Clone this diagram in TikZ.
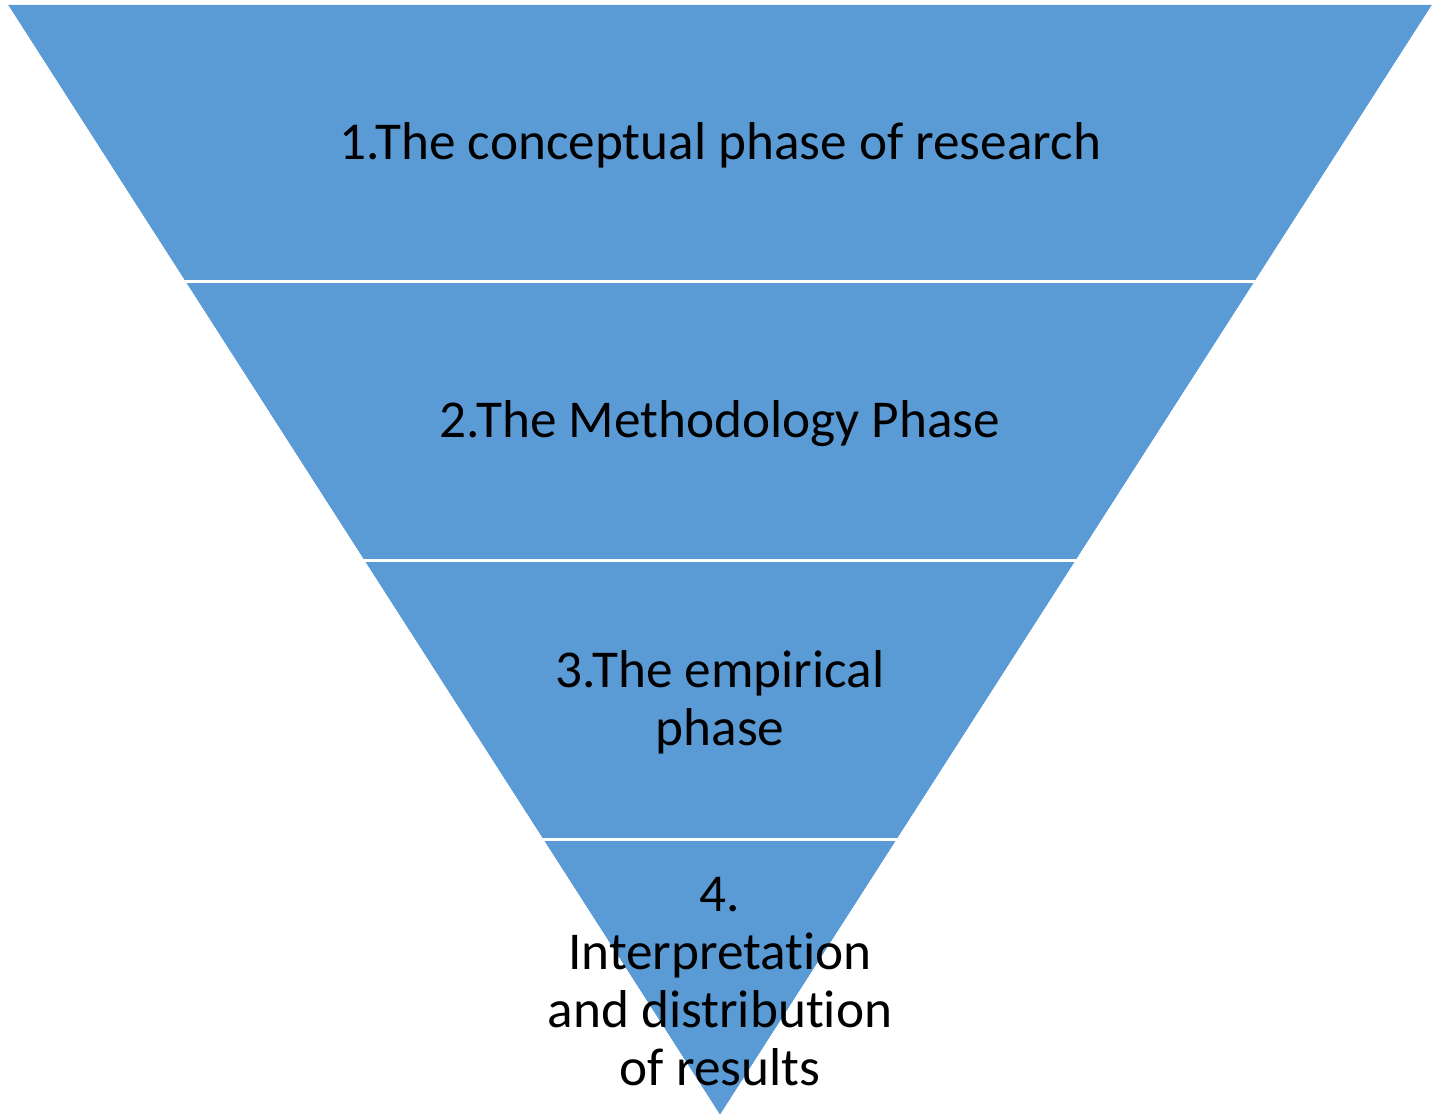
\documentclass[tikz,border=0pt]{standalone}
\usepackage{fontspec}
\setmainfont{Carlito}[Ligatures={NoCommon,NoContextual}]
\definecolor{bandblue}{HTML}{5B9BD5}
\begin{document}
\begin{tikzpicture}[
  label text/.style={align=center, font=\fontsize{30.3pt}{33pt}\selectfont, text=black, inner sep=0pt},
  gap line/.style={draw=white, line width=0.06cm}
]
\useasboundingbox (0,0) rectangle (28.68,22.3);
\coordinate (tl) at (0.16,22.2);
\coordinate (tr) at (28.64,22.2);
\coordinate (ap) at (14.4,0);
\fill[bandblue] (tl) -- (tr) -- (ap) -- cycle;
% separating white gaps
\foreach \yy in {16.66,11.08,5.5} {
  \draw[gap line] (0,\yy) -- (28.68,\yy);
}
\fill[white] (0,0) -- (ap) -- (tl) -- (0,22.3) -- cycle;
\fill[white] (28.68,0) -- (ap) -- (tr) -- (28.68,22.3) -- cycle;
\node[label text] (t1) at (14.4,19.4) {1.The conceptual phase of research};
\node[label text] (t2) at (14.4,13.82) {2.The Methodology Phase};
\node[label text] (t3) at (14.4,8.26) {3.The empirical\\phase};
\node[label text] (t4) at (14.4,2.66) {4.\\Interpretation\\and distribution\\of results};
\end{tikzpicture}
\end{document}
